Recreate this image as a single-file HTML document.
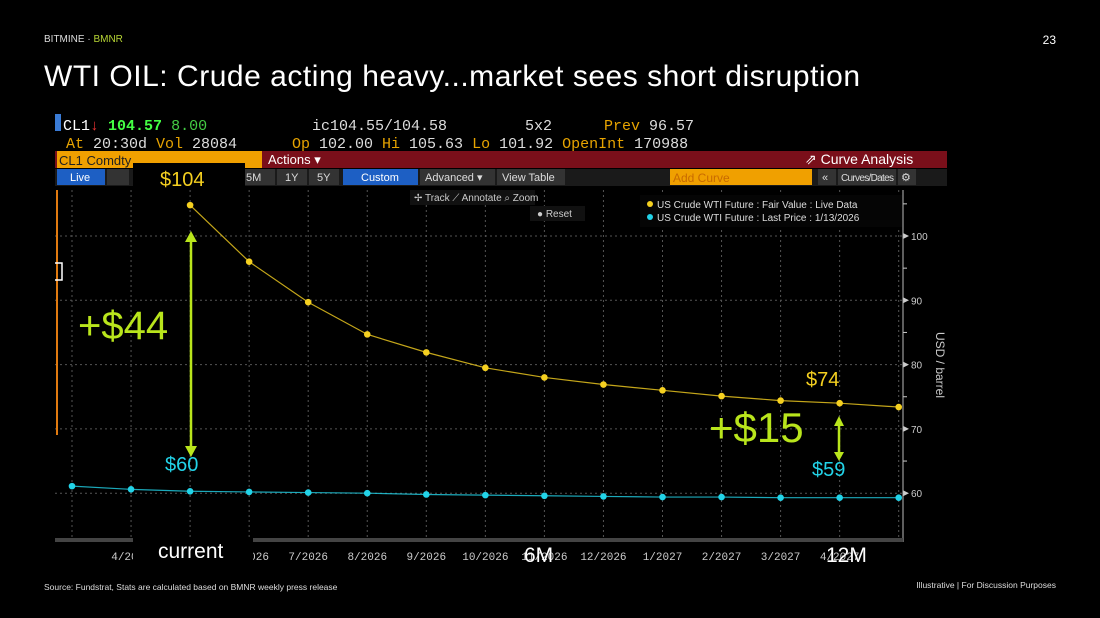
<!DOCTYPE html>
<html><head><meta charset="utf-8"><style>
html,body{margin:0;padding:0;background:#000;width:1100px;height:618px;overflow:hidden}
svg{display:block;font-family:"Liberation Sans",sans-serif}
.m{font-family:"Liberation Mono","DejaVu Sans Mono",monospace}
</style></head><body>
<svg id="s" width="1100" height="618" viewBox="0 0 1100 618">
<text x="44" y="42" font-size="10" fill="#ddd">BITMINE · <tspan fill="#b5d334">BMNR</tspan></text>
<text x="1056" y="44" font-size="12" fill="#fff" text-anchor="end">23</text>
<text x="44" y="86" font-size="30" fill="#fff" textLength="816">WTI OIL: Crude acting heavy...market sees short disruption</text>

<g class="m" font-size="15">
<rect x="55" y="114" width="6" height="17" fill="#3a7bd5"/>
<text x="63" y="130" fill="#fff">CL1<tspan fill="#e33">↓</tspan> <tspan fill="#4f4" font-weight="bold">104.57</tspan>   <tspan fill="#4c4">8.00</tspan></text>
<text x="312" y="130" fill="#ddd">ic104.55/104.58</text>
<text x="525" y="130" fill="#ddd">5x2</text>
<text x="604" y="130" fill="#e8a400">Prev <tspan fill="#ddd">96.57</tspan></text>
<text x="66" y="148" fill="#e8a400">At <tspan fill="#ddd">20:30d</tspan> Vol <tspan fill="#ddd">28084</tspan></text>
<text x="292" y="148" fill="#e8a400">Op <tspan fill="#ddd">102.00</tspan>  Hi <tspan fill="#ddd">105.63</tspan>  Lo <tspan fill="#ddd">101.92</tspan>  OpenInt <tspan fill="#ddd">170988</tspan></text>
</g>
<rect x="55" y="151" width="892" height="17" fill="#7a0f1a"/>
<rect x="57" y="151" width="205" height="17" fill="#f0a000"/>
<text x="59" y="165" font-size="13" fill="#222">CL1 Comdty</text>
<text x="268" y="164" font-size="13" fill="#fff">Actions ▾</text>
<text x="805" y="164" font-size="14" fill="#fff">⇗ Curve Analysis</text>
<rect x="55" y="169" width="892" height="17" fill="#1a1a1a"/>
<rect x="57" y="169" width="48" height="16" fill="#1d5fc4"/>
<text x="70" y="181" font-size="11" fill="#fff">Live</text>
<rect x="107" y="169" width="22" height="16" fill="#333"/>
<rect x="245" y="169" width="30" height="16" fill="#333"/><text x="246" y="181" font-size="11" fill="#ddd">5M</text>
<rect x="277" y="169" width="30" height="16" fill="#333"/><text x="285" y="181" font-size="11" fill="#ddd">1Y</text>
<rect x="309" y="169" width="30" height="16" fill="#333"/><text x="317" y="181" font-size="11" fill="#ddd">5Y</text>
<rect x="343" y="169" width="75" height="16" fill="#1d5fc4"/><text x="361" y="181" font-size="11" fill="#fff">Custom</text>
<rect x="420" y="169" width="75" height="16" fill="#333"/><text x="425" y="181" font-size="11" fill="#ddd">Advanced ▾</text>
<rect x="497" y="169" width="68" height="16" fill="#333"/><text x="502" y="181" font-size="11" fill="#ddd">View Table</text>
<rect x="670" y="169" width="142" height="16" fill="#f0a000"/><text x="673" y="182" font-size="12" fill="#c86a00">Add Curve</text>
<rect x="818" y="169" width="18" height="16" fill="#333"/><text x="822" y="181" font-size="11" fill="#ddd">«</text>
<rect x="838" y="169" width="58" height="16" fill="#333"/><text x="841" y="181" font-size="10" fill="#ddd" textLength="53">Curves/Dates</text>
<rect x="898" y="169" width="18" height="16" fill="#333"/><text x="901" y="181" font-size="11" fill="#ddd">⚙</text>

<g id="plot"></g>
<line x1="57" y1="190" x2="57" y2="435" stroke="#e07a10" stroke-width="2"/>
<path d="M55 263 H62 V280 H55" fill="none" stroke="#fff" stroke-width="1.5"/>

<g font-size="10" fill="#ccc">
<rect x="410" y="190" width="125" height="15" fill="#111"/>
<text x="414" y="201">✢ Track  ⟋ Annotate  ⌕ Zoom</text>
<rect x="530" y="206" width="55" height="15" fill="#111"/>
<text x="537" y="217">● Reset</text>
</g>
<g font-size="10" fill="#ddd">
<rect x="640" y="195" width="262" height="32" fill="#050505"/>
<circle cx="650" cy="204" r="3" fill="#f5d020"/><text x="657" y="208">US Crude WTI Future : Fair Value : Live Data</text>
<circle cx="650" cy="217" r="3" fill="#22d3e8"/><text x="657" y="221">US Crude WTI Future : Last Price : 1/13/2026</text>
</g>
<text transform="translate(936,365) rotate(90)" font-size="12" fill="#ccc" text-anchor="middle">USD / barrel</text>

<rect x="55" y="538" width="848" height="4" fill="#444"/>

<g font-weight="normal">
<rect x="133" y="163" width="112" height="27" fill="#000"/>
<text x="160" y="186" font-size="20" fill="#f5d020">$104</text>
<text x="78" y="339" font-size="40" fill="#b9e51c">+$44</text>
<text x="165" y="471" font-size="20" fill="#22d3e8">$60</text>
<text x="806" y="386" font-size="20" fill="#f5d020">$74</text>
<text x="709" y="442" font-size="42" fill="#b9e51c">+$15</text>
<text x="812" y="476" font-size="20" fill="#22d3e8">$59</text>
<g stroke="#b9e51c" stroke-width="2.5" fill="#b9e51c">
<line x1="191" y1="240" x2="191" y2="448"/><path d="M185 242 L191 231 L197 242Z M185 446 L191 457 L197 446Z" stroke="none"/></g>
<g stroke="#b9e51c" stroke-width="2.5" fill="#b9e51c">
<line x1="839" y1="424" x2="839" y2="454"/><path d="M834 426 L839 416 L844 426Z M834 452 L839 461 L844 452Z" stroke="none"/></g>
<rect x="133" y="538" width="120" height="27" fill="#000"/>
<text x="158" y="558" font-size="21" fill="#fff">current</text>
<text x="524" y="562" font-size="21" fill="#fff">6M</text>
<text x="826" y="562" font-size="21" fill="#fff">12M</text>
</g>
<text x="44" y="590" font-size="8.5" fill="#ddd">Source: Fundstrat, Stats are calculated based on BMNR weekly press release</text>
<text x="1056" y="588" font-size="8.5" fill="#ddd" text-anchor="end">Illustrative  |  For Discussion Purposes</text>
</svg>
<script>
const months = ["3/2026","4/2026","5/2026","6/2026","7/2026","8/2026","9/2026","10/2026","11/2026","12/2026","1/2027","2/2027","3/2027","4/2027","5/2027"];
const fairValue = [null,null,104.8,96,89.7,84.7,81.9,79.5,78,76.9,76,75.1,74.4,74,73.4];
const lastPrice = [61.1,60.6,60.3,60.2,60.1,60,59.8,59.7,59.6,59.5,59.4,59.4,59.3,59.3,59.3];
const yTicks = [60,70,80,90,100];
const xLabels = ["","4/2026","5/2026","6/2026","7/2026","8/2026","9/2026","10/2026","11/2026","12/2026","1/2027","2/2027","3/2027","4/2027",""];

const NS="http://www.w3.org/2000/svg";
const g=document.getElementById('plot');
const x=i=>72+i*59.05;
const y=v=>236+(100-v)*6.43;
function mk(t,a){const e=document.createElementNS(NS,t);for(const k in a)e.setAttribute(k,a[k]);g.appendChild(e);return e;}
months.forEach((m,i)=>{
  const l=mk('line',{x1:x(i),x2:x(i),y1:190,y2:545,stroke:'#555','stroke-dasharray':'2,3','stroke-width':1});
  
  
  if(xLabels[i]){const t=mk('text',{x:x(i),y:560,'font-size':11,fill:'#ccc','text-anchor':'middle',class:'m'});t.textContent=xLabels[i];
  
  }
});
yTicks.forEach(v=>{
  const l=mk('line',{x1:55,x2:903,y1:y(v),y2:y(v),stroke:'#555','stroke-dasharray':'2,3'});
  
  
  mk('path',{d:`M903 ${y(v)-3} L909 ${y(v)} L903 ${y(v)+3}Z`,fill:'#ccc'});
  const t=mk('text',{x:911,y:y(v)+4,'font-size':10,fill:'#ccc'});t.textContent=v;
  
  
  mk('line',{x1:903,x2:907,y1:y(v+5),y2:y(v+5),stroke:'#ccc'});
});
mk('line',{x1:903,x2:903,y1:190,y2:542,stroke:'#bbb'});
function series(arr,col,name){
  const pts=arr.map((v,i)=>v==null?null:[x(i),y(v)]).filter(p=>p);
  const p=mk('polyline',{points:pts.map(p=>p.join(',')).join(' '),fill:'none',stroke:col,'stroke-width':1.2,opacity:0.8});
  
  
  pts.forEach(q=>{const c=mk('circle',{cx:q[0],cy:q[1],r:3.3,fill:col});
  
  });
}
series(fairValue,'#f5d020','fair-value');
series(lastPrice,'#22d3e8','last-price');
</script>
</body></html>
